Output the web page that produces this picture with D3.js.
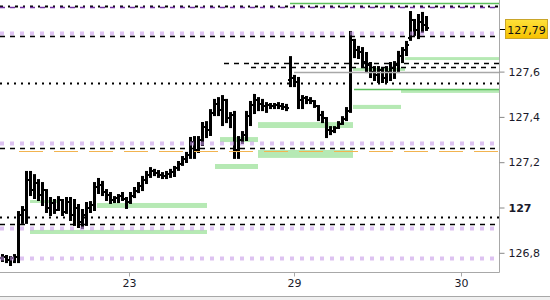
<!DOCTYPE html>
<html>
<head>
<meta charset="utf-8">
<script src="https://cdn.jsdelivr.net/npm/d3@7"></script>
<style>
  body { margin: 0; background: #fff; }
  svg { display: block; font-family: "DejaVu Sans", sans-serif; }
</style>
</head>
<body>
<svg id="chart" width="550" height="300"></svg>
<script>
// OHLC bars
const barOpen = [126.777,126.781,126.768,126.777,126.781,126.967,126.989,127.121,127.077,127.108,127.055,127.077,126.998,127.020,126.989,127.033,126.980,127.024,126.967,126.998,126.936,126.967,126.998,127.011,127.090,127.099,127.068,127.055,127.033,127.042,127.051,127.038,127.024,127.051,127.073,127.095,127.121,127.143,127.161,127.152,127.143,127.139,127.148,127.157,127.174,127.192,127.214,127.232,127.289,127.254,127.298,127.355,127.342,127.417,127.457,127.430,127.475,127.395,127.408,127.254,127.298,127.320,127.404,127.453,127.475,127.457,127.448,127.453,127.448,127.453,127.448,127.444,127.563,127.572,127.554,127.475,127.483,127.475,127.470,127.448,127.408,127.395,127.342,127.338,127.351,127.369,127.391,127.426,127.740,127.695,127.687,127.642,127.629,127.598,127.585,127.607,127.572,127.598,127.616,127.629,127.669,127.695,127.748,127.828,127.784,127.819,127.806];
const barHigh = [126.790,126.786,126.781,126.790,126.980,127.002,127.157,127.157,127.143,127.121,127.108,127.077,127.042,127.033,127.046,127.033,127.042,127.042,127.033,127.011,126.989,127.020,127.024,127.108,127.126,127.113,127.077,127.064,127.046,127.055,127.064,127.042,127.064,127.086,127.108,127.135,127.157,127.174,127.166,127.161,127.152,127.157,127.166,127.179,127.201,127.223,127.241,127.307,127.311,127.311,127.373,127.377,127.430,127.475,127.483,127.492,127.475,127.417,127.422,127.311,127.333,127.422,127.466,127.497,127.483,127.475,127.461,127.457,127.457,127.461,127.457,127.453,127.664,127.581,127.572,127.492,127.488,127.483,127.470,127.448,127.422,127.395,127.355,127.355,127.377,127.399,127.439,127.775,127.740,127.709,127.704,127.682,127.638,127.620,127.620,127.616,127.620,127.638,127.642,127.687,127.704,127.731,127.863,127.828,127.850,127.859,127.841];
const barLow = [126.764,126.759,126.746,126.759,126.759,126.932,126.932,127.055,127.042,127.033,127.011,126.980,126.967,126.976,126.989,126.967,126.976,126.945,126.923,126.914,126.910,126.923,126.980,126.989,127.064,127.055,127.033,127.020,127.024,127.024,127.033,126.998,127.020,127.046,127.068,127.077,127.108,127.135,127.143,127.135,127.130,127.130,127.135,127.139,127.166,127.188,127.201,127.219,127.219,127.245,127.276,127.311,127.320,127.408,127.408,127.364,127.377,127.355,127.219,127.219,127.285,127.298,127.364,127.417,127.430,127.430,127.422,127.439,127.439,127.439,127.435,127.430,127.536,127.536,127.439,127.439,127.461,127.461,127.444,127.386,127.377,127.311,127.324,127.333,127.351,127.369,127.386,127.422,127.664,127.660,127.620,127.598,127.576,127.563,127.554,127.554,127.554,127.563,127.572,127.598,127.642,127.673,127.740,127.762,127.748,127.775,127.784];
const barClose = [126.781,126.768,126.777,126.781,126.967,126.989,127.121,127.077,127.108,127.055,127.077,126.998,127.020,126.989,127.033,126.980,127.024,126.967,126.998,126.936,126.967,126.998,127.011,127.090,127.099,127.068,127.055,127.033,127.042,127.051,127.038,127.024,127.051,127.073,127.095,127.121,127.143,127.161,127.152,127.143,127.139,127.148,127.157,127.174,127.192,127.214,127.232,127.289,127.254,127.298,127.355,127.342,127.417,127.457,127.430,127.475,127.395,127.408,127.254,127.298,127.320,127.404,127.453,127.475,127.457,127.448,127.453,127.448,127.453,127.448,127.444,127.439,127.572,127.554,127.475,127.483,127.475,127.470,127.448,127.408,127.395,127.342,127.338,127.351,127.369,127.391,127.426,127.740,127.695,127.687,127.642,127.629,127.598,127.585,127.607,127.572,127.598,127.616,127.629,127.669,127.695,127.717,127.828,127.784,127.819,127.806,127.792];

const lastPrice = 127.79;

// axis ticks
const yTicks = [126.8, 127, 127.2, 127.4, 127.6];
const xTickAt = [31.75, 73, 114.75];
const xTickLabels = ["23", "29", "30"];

// horizontal levels: price, from bar, to bar (null = edge), kind
const levelPrice = [127.902, 127.890, 127.884, 127.770, 127.757, 127.639, 127.622, 127.598, 127.550, 127.523, 127.285, 127.263, 127.249, 126.958, 126.927, 126.909, 126.777];
const levelFrom  = [72, null, null, null, null, 55.5, 62.25, 73, null, 88, null, null, 4.25, null, null, null, null];
const levelTo    = [null, null, null, null, null, null, null, null, null, null, null, null, null, null, null, null, null];
const levelKind  = ["greenThin", "dashDot", "purpleDash", "purpleDot", "blackDash", "blackDash", "blackDash", "gray", "blackDot", "greenThin", "purpleDot", "blackDash", "orange", "blackDot", "blackDash", "purpleDot", "purpleDot"];

// green zones: high, low, from bar, to bar
const zoneHigh = [127.664, 127.616, 127.523, 127.453, 127.377, 127.311, 127.254, 127.192, 127.033, 127.020, 126.901];
const zoneLow  = [127.651, 127.603, 127.506, 127.435, 127.351, 127.289, 127.219, 127.170, 127.020, 126.998, 126.883];
const zoneFrom = [100.75, 87.75, 99.75, 87.75, 64, 54.5, 64, 53.25, 7, 23.75, 7];
const zoneTo   = [null, 100.75, null, 99.75, 87.75, 64, 87.75, 64, 13.75, 51.25, 51.25];

const levelStyle = {
  greenThin:  {stroke: "#5cbf5c", width: 1.5, dash: null, opacity: 1},
  dashDot:    {stroke: "#000", width: 2, dash: "3,5,2,5", opacity: 1},
  purpleDash: {stroke: "#7030a0", width: 1.5, dash: "5,5", opacity: 1},
  purpleDot:  {stroke: "#c79be8", width: 4, dash: "4,6", opacity: 0.6},
  blackDash:  {stroke: "#000", width: 1.3, dash: "5,5", opacity: 1},
  blackDot:   {stroke: "#000", width: 2, dash: "2,5", opacity: 1},
  orange:     {stroke: "#f2b450", width: 1, dash: "24,11", opacity: 1},
  gray:       {stroke: "#a8a8a8", width: 1.5, dash: null, opacity: 1}
};

const svg = d3.select("#chart"),
  plotW = 499, plotH = 272;

const x = d3.scaleLinear().domain([-0.5, 124.25]).range([0, plotW]);
const y = d3.scaleLinear().domain([126.8, 127.6]).range([252.8, 71.6]);

svg.append("defs").append("clipPath").attr("id", "plot")
  .append("rect").attr("width", plotW).attr("height", plotH);

const g = svg.append("g").attr("clip-path", "url(#plot)");

// zones behind bars
g.append("g").selectAll("rect")
  .data(zoneHigh.map((h, i) => ({hi: h, lo: zoneLow[i], from: zoneFrom[i], to: zoneTo[i]})))
  .join("rect")
  .attr("x", d => x(d.from))
  .attr("width", d => x(d.to === null ? x.domain()[1] : d.to) - x(d.from))
  .attr("y", d => y(d.hi))
  .attr("height", d => y(d.lo) - y(d.hi))
  .attr("fill", "#b6e9b4");

// bars
const bars = barHigh.map((h, i) => ({i, o: barOpen[i], h, l: barLow[i], c: barClose[i]}));
const bg = g.append("g").attr("stroke", "#000");
bg.selectAll("line.v").data(bars).join("line").attr("class", "v")
  .attr("x1", d => Math.round(x(d.i)) + 0.5).attr("x2", d => Math.round(x(d.i)) + 0.5)
  .attr("y1", d => y(d.h) - 1).attr("y2", d => y(d.l) + 1)
  .attr("stroke-width", 3);
bg.selectAll("line.o").data(bars).join("line").attr("class", "o")
  .attr("x1", d => Math.round(x(d.i)) - 2).attr("x2", d => Math.round(x(d.i)))
  .attr("y1", d => y(d.o)).attr("y2", d => y(d.o))
  .attr("stroke-width", 2);
bg.selectAll("line.c").data(bars).join("line").attr("class", "c")
  .attr("x1", d => Math.round(x(d.i)) + 1).attr("x2", d => Math.round(x(d.i)) + 3)
  .attr("y1", d => y(d.c)).attr("y2", d => y(d.c))
  .attr("stroke-width", 2);

// level lines over bars
g.append("g").selectAll("line")
  .data(levelPrice.map((p, i) => ({p, from: levelFrom[i], to: levelTo[i], s: levelStyle[levelKind[i]]})))
  .join("line")
  .attr("x1", d => x(d.from === null ? x.domain()[0] : d.from))
  .attr("x2", d => x(d.to === null ? x.domain()[1] : d.to))
  .attr("y1", d => Math.round(y(d.p)) + 0.5)
  .attr("y2", d => Math.round(y(d.p)) + 0.5)
  .attr("stroke", d => d.s.stroke)
  .attr("stroke-width", d => d.s.width)
  .attr("stroke-dasharray", d => d.s.dash)
  .attr("opacity", d => d.s.opacity);

// frame
svg.append("line").attr("x1", plotW + 0.5).attr("x2", plotW + 0.5).attr("y1", 0).attr("y2", plotH + 0.5)
  .attr("stroke", "#a8a8a8");
svg.append("line").attr("x1", 0).attr("x2", plotW + 0.5).attr("y1", plotH + 0.5).attr("y2", plotH + 0.5)
  .attr("stroke", "#a8a8a8");
svg.append("rect").attr("x", 0).attr("y", 296).attr("width", 550).attr("height", 4).attr("fill", "#f0f0f0");
svg.append("line").attr("x1", 0).attr("x2", 550).attr("y1", 296.5).attr("y2", 296.5).attr("stroke", "#a8a8a8");

// y axis
const yAxis = svg.append("g")
  .attr("transform", `translate(${plotW + 0.5},0)`)
  .call(d3.axisRight(y).tickValues(yTicks).tickSize(5).tickPadding(4)
    .tickFormat(d => d3.format("")(d).replace(".", ",")));
yAxis.select(".domain").remove();
yAxis.selectAll("line").attr("stroke", "#888");
yAxis.selectAll("text").attr("fill", "#1a1a2a").attr("font-size", 11)
  .attr("font-family", "DejaVu Sans, sans-serif")
  .attr("font-weight", d => d === 127 ? "bold" : null);

// x axis
const xAxis = svg.append("g")
  .attr("transform", `translate(0,${plotH + 0.5})`)
  .call(d3.axisBottom(x).tickValues(xTickAt).tickSize(4).tickPadding(3)
    .tickFormat((d, i) => xTickLabels[i]));
xAxis.select(".domain").remove();
xAxis.selectAll("line").attr("stroke", "#a8a8a8");
xAxis.selectAll("text").attr("fill", "#1a1a2a").attr("font-size", 11)
  .attr("font-family", "DejaVu Sans, sans-serif");

// current price marker
const grad = svg.select("defs").append("linearGradient").attr("id", "gold")
  .attr("x1", 0).attr("x2", 0).attr("y1", 0).attr("y2", 1);
grad.append("stop").attr("offset", 0).attr("stop-color", "#ffe23a");
grad.append("stop").attr("offset", 1).attr("stop-color", "#f5c000");
const py = Math.round(y(lastPrice));
svg.append("line").attr("x1", plotW + 1).attr("x2", plotW + 6)
  .attr("y1", py + 0.5).attr("y2", py + 0.5).attr("stroke", "#000");
svg.append("rect").attr("x", 505.5).attr("y", py - 9.5).attr("width", 42).attr("height", 19)
  .attr("fill", "url(#gold)").attr("stroke", "#c9a52a");
svg.append("text").attr("x", 526.5).attr("y", py + 4.5).attr("text-anchor", "middle")
  .attr("font-size", 11).attr("fill", "#111").text(d3.format("")(lastPrice).replace(".", ","));
</script>
</body>
</html>
